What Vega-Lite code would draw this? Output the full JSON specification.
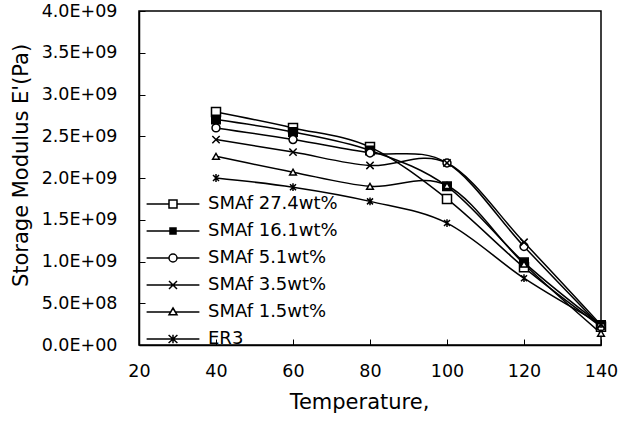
{
  "$schema": "https://vega.github.io/schema/vega-lite/v6.json",
  "autosize": "none",
  "padding": {"left": 139, "top": 11, "right": 18, "bottom": 90},
  "width": 462,
  "height": 334,
  "background": "white",
  "config": {
    "view": {"stroke": "black", "strokeWidth": 1.5},
    "font": "DejaVu Sans",
    "axis": {
      "grid": false,
      "domainColor": "black",
      "domainWidth": 1.5,
      "tickColor": "black",
      "tickWidth": 1,
      "tickSize": -6,
      "labelFlush": false,
      "labelOverlap": false,
      "labelColor": "black",
      "labelFont": "DejaVu Sans",
      "labelFontSize": 17.5,
      "titleColor": "black",
      "titleFont": "DejaVu Sans",
      "titleFontSize": 21,
      "titleFontWeight": "normal"
    },
    "legend": {
      "labelFont": "DejaVu Sans",
      "labelFontSize": 18,
      "labelColor": "black"
    }
  },
  "data": {
    "values": [
      {"series": "SMAf 27.4wt%", "temp": 40, "modulus": 2790000000},
      {"series": "SMAf 27.4wt%", "temp": 60, "modulus": 2600000000},
      {"series": "SMAf 27.4wt%", "temp": 80, "modulus": 2370000000},
      {"series": "SMAf 27.4wt%", "temp": 100, "modulus": 1750000000},
      {"series": "SMAf 27.4wt%", "temp": 120, "modulus": 930000000},
      {"series": "SMAf 27.4wt%", "temp": 140, "modulus": 220000000},
      {"series": "SMAf 16.1wt%", "temp": 40, "modulus": 2700000000},
      {"series": "SMAf 16.1wt%", "temp": 60, "modulus": 2550000000},
      {"series": "SMAf 16.1wt%", "temp": 80, "modulus": 2330000000},
      {"series": "SMAf 16.1wt%", "temp": 100, "modulus": 1900000000},
      {"series": "SMAf 16.1wt%", "temp": 120, "modulus": 990000000},
      {"series": "SMAf 16.1wt%", "temp": 140, "modulus": 240000000},
      {"series": "SMAf 5.1wt%", "temp": 40, "modulus": 2600000000},
      {"series": "SMAf 5.1wt%", "temp": 60, "modulus": 2460000000},
      {"series": "SMAf 5.1wt%", "temp": 80, "modulus": 2300000000},
      {"series": "SMAf 5.1wt%", "temp": 100, "modulus": 2180000000},
      {"series": "SMAf 5.1wt%", "temp": 120, "modulus": 1180000000},
      {"series": "SMAf 5.1wt%", "temp": 140, "modulus": 220000000},
      {"series": "SMAf 3.5wt%", "temp": 40, "modulus": 2460000000},
      {"series": "SMAf 3.5wt%", "temp": 60, "modulus": 2310000000},
      {"series": "SMAf 3.5wt%", "temp": 80, "modulus": 2150000000},
      {"series": "SMAf 3.5wt%", "temp": 100, "modulus": 2180000000},
      {"series": "SMAf 3.5wt%", "temp": 120, "modulus": 1230000000},
      {"series": "SMAf 3.5wt%", "temp": 140, "modulus": 240000000},
      {"series": "SMAf 1.5wt%", "temp": 40, "modulus": 2260000000},
      {"series": "SMAf 1.5wt%", "temp": 60, "modulus": 2070000000},
      {"series": "SMAf 1.5wt%", "temp": 80, "modulus": 1900000000},
      {"series": "SMAf 1.5wt%", "temp": 100, "modulus": 1910000000},
      {"series": "SMAf 1.5wt%", "temp": 120, "modulus": 970000000},
      {"series": "SMAf 1.5wt%", "temp": 140, "modulus": 140000000},
      {"series": "ER3", "temp": 40, "modulus": 2000000000},
      {"series": "ER3", "temp": 60, "modulus": 1890000000},
      {"series": "ER3", "temp": 80, "modulus": 1720000000},
      {"series": "ER3", "temp": 100, "modulus": 1460000000},
      {"series": "ER3", "temp": 120, "modulus": 800000000},
      {"series": "ER3", "temp": 140, "modulus": 250000000}
    ]
  },
  "encoding": {
    "x": {
      "field": "temp",
      "type": "quantitative",
      "scale": {"domain": [20, 140], "nice": false, "zero": false},
      "axis": {
        "title": "Temperature,",
        "values": [20, 40, 60, 80, 100, 120, 140],
        "labelPadding": 23,
        "titlePadding": 12,
        "titleX": 220
      }
    },
    "y": {
      "field": "modulus",
      "type": "quantitative",
      "scale": {"domain": [0, 4000000000], "nice": false},
      "axis": {
        "title": "Storage Modulus E'(Pa)",
        "values": [0, 500000000, 1000000000, 1500000000, 2000000000, 2500000000, 3000000000, 3500000000, 4000000000],
        "labelExpr": "replace(format(datum.value, '.1e'), 'e+', 'E+0')",
        "labelPadding": 28,
        "titlePadding": 10,
        "titleY": 154
      }
    }
  },
  "layer": [
    {
      "mark": {"type": "line", "color": "black", "strokeWidth": 1.5, "interpolate": "cardinal"},
      "encoding": {
        "detail": {"field": "series"},
        "order": {"field": "temp", "type": "quantitative"}
      }
    },
    {
      "mark": {"type": "point", "filled": true, "strokeWidth": 1.5, "opacity": 0},
      "encoding": {
        "shape": {
          "field": "series",
          "type": "nominal",
          "scale": {
            "domain": ["SMAf 27.4wt%", "SMAf 16.1wt%", "SMAf 5.1wt%", "SMAf 3.5wt%", "SMAf 1.5wt%", "ER3"],
            "range": ["M-6.6,0H-1M1,0H6.6M-1,-1H1V1H-1Z", "M-6.6,0H6.6M-0.75,-0.75H0.75V0.75H-0.75Z", "M-6.6,0H-1M1,0H6.6M-1,0A1,1 0 1,0 1,0A1,1 0 1,0 -1,0Z", "M-6.6,0H6.6M-1,-1L1,1M1,-1L-1,1", "M-6.6,0H-0.59M0.59,0H6.6M0,-1L1,0.7H-1Z", "M-6.6,0H6.6M-1.1,-1L1.1,1M1.1,-1L-1.1,1M0,-1.05V1.05"]
          },
          "legend": {
            "title": null,
            "orient": "none",
            "legendX": 25,
            "legendY": 184,
            "padding": 0,
            "rowPadding": 9,
            "labelOffset": 26,
            "symbolSize": 64,
            "symbolOpacity": 1,
            "symbolStrokeWidth": 1.5
          }
        },
        "fill": {
          "field": "series",
          "type": "nominal",
          "scale": {
            "domain": ["SMAf 27.4wt%", "SMAf 16.1wt%", "SMAf 5.1wt%", "SMAf 3.5wt%", "SMAf 1.5wt%", "ER3"],
            "range": ["white", "black", "white", "white", "white", "white"]
          },
          "legend": {
            "title": null,
            "orient": "none",
            "legendX": 25,
            "legendY": 184,
            "padding": 0,
            "rowPadding": 9,
            "labelOffset": 26,
            "symbolSize": 64,
            "symbolOpacity": 1,
            "symbolStrokeWidth": 1.5
          }
        },
        "stroke": {
          "field": "series",
          "type": "nominal",
          "scale": {
            "domain": ["SMAf 27.4wt%", "SMAf 16.1wt%", "SMAf 5.1wt%", "SMAf 3.5wt%", "SMAf 1.5wt%", "ER3"],
            "range": ["black", "black", "black", "black", "black", "black"]
          },
          "legend": {
            "title": null,
            "orient": "none",
            "legendX": 25,
            "legendY": 184,
            "padding": 0,
            "rowPadding": 9,
            "labelOffset": 26,
            "symbolSize": 64,
            "symbolOpacity": 1,
            "symbolStrokeWidth": 1.5
          }
        }
      }
    },
    {
      "mark": {"type": "point", "filled": true, "stroke": "black", "strokeWidth": 1.5, "opacity": 1},
      "encoding": {
        "shape": {
          "field": "series",
          "type": "nominal",
          "scale": {
            "domain": ["SMAf 27.4wt%", "SMAf 16.1wt%", "SMAf 5.1wt%", "SMAf 3.5wt%", "SMAf 1.5wt%", "ER3"],
            "range": ["square", "square", "circle", "M-1,-1L1,1M1,-1L-1,1", "triangle-up", "M-1,-1L1,1M1,-1L-1,1M0,-1.3V1.3"]
          },
          "legend": null
        },
        "fill": {
          "field": "series",
          "type": "nominal",
          "scale": {
            "domain": ["SMAf 27.4wt%", "SMAf 16.1wt%", "SMAf 5.1wt%", "SMAf 3.5wt%", "SMAf 1.5wt%", "ER3"],
            "range": ["white", "black", "white", "white", "white", "white"]
          },
          "legend": null
        },
        "size": {
          "field": "series",
          "type": "nominal",
          "scale": {
            "domain": ["SMAf 27.4wt%", "SMAf 16.1wt%", "SMAf 5.1wt%", "SMAf 3.5wt%", "SMAf 1.5wt%", "ER3"],
            "range": [81, 36, 64, 64, 90, 144]
          },
          "legend": null
        }
      }
    }
  ],
  "resolve": {"scale": {"shape": "independent", "fill": "independent", "size": "independent", "stroke": "independent"}, "legend": {"shape": "independent", "fill": "independent", "size": "independent", "stroke": "independent"}}
}
